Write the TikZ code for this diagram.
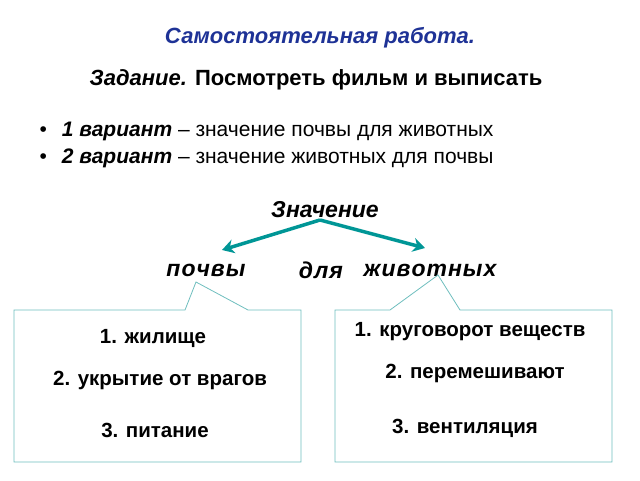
\documentclass[tikz,border=0pt]{standalone}
\usepackage{fontspec}
\setmainfont{Liberation Sans}
\usetikzlibrary{arrows.meta}
\definecolor{teal1}{RGB}{0,150,150}
\definecolor{tblue}{RGB}{30,50,150}
\definecolor{bline}{RGB}{110,190,190}
\begin{document}
\begin{tikzpicture}[x=1pt,y=-1pt,
  box/.style={draw=bline,line width=0.8pt,fill=white},
  arr/.style={teal1,line width=3.5pt,-{Stealth[length=12pt,width=14pt]}},
  txt/.style={font=\fontsize{20.5}{23}\selectfont\bfseries},
  big/.style={font=\fontsize{23}{26}\selectfont\bfseries\itshape}]
\useasboundingbox (0,0) rectangle (640,480);
\node[font=\fontsize{22}{24}\selectfont\bfseries\itshape,text=tblue] (t) at (320,38) {Самостоятельная работа.};
\node[font=\fontsize{22}{24}\selectfont\bfseries] (z) at (316,80) {\textit{Задание.} Посмотреть фильм и выписать};
\node[anchor=west,font=\fontsize{21}{23}\selectfont] (b1) at (36,131) {\textbullet\hspace{15pt}\textbf{\textit{1 вариант}} – значение почвы для животных};
\node[anchor=west,font=\fontsize{21}{23}\selectfont] (b2) at (36,158) {\textbullet\hspace{15pt}\textbf{\textit{2 вариант}} – значение животных для почвы};
\node[big] (zn) at (325,210) {Значение};
\node[big] (p) at (206,270) {п\kern1ptо\kern1ptч\kern1ptв\kern1ptы};
\node[big] (d) at (321,270) {д\kern1ptл\kern1ptя};
\node[big] (zh) at (430,270) {ж\kern1ptи\kern1ptв\kern1ptо\kern1ptт\kern1ptн\kern1ptы\kern1ptх};
\coordinate (top) at (320,220);
\draw[arr] (top) -- (222,250);
\draw[arr] (top) -- (425,248);
\draw[box] (14,310) -- (185,310) -- (196,282) -- (248,310) -- (301,310) -- (301,462) -- (14,462) -- cycle;
\draw[box] (335,310) -- (390,310) -- (438,275) -- (460,310) -- (612,310) -- (612,462) -- (335,462) -- cycle;
\node[txt] (l1) at (153,338) {1. жилище};
\node[txt] (l2) at (160,380) {2. укрытие от врагов};
\node[txt] (l3) at (155,430) {3. питание};
\node[txt] (r1) at (470,332) {1. круговорот веществ};
\node[txt] (r2) at (475,373) {2. перемешивают};
\node[txt] (r3) at (465,428) {3. вентиляция};
\end{tikzpicture}
\end{document}
